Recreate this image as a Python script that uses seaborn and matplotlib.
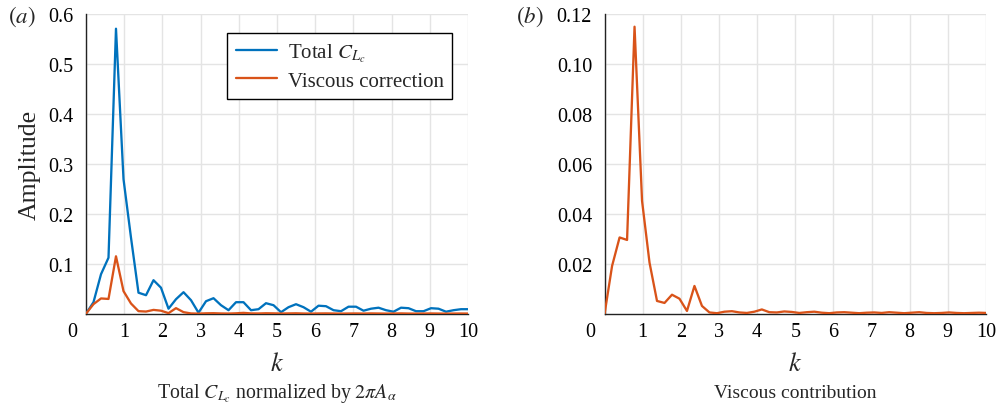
import numpy as np
import pandas as pd
import matplotlib
matplotlib.use("Agg")
import matplotlib.pyplot as plt
import seaborn as sns
from matplotlib.transforms import ScaledTranslation

# ---------------- data ----------------
k = [0.000, 0.196, 0.393, 0.589, 0.785, 0.982, 1.178, 1.374, 1.571, 1.767,
     1.963, 2.160, 2.356, 2.553, 2.749, 2.945, 3.142, 3.338, 3.534, 3.731,
     3.927, 4.123, 4.320, 4.516, 4.712, 4.909, 5.105, 5.301, 5.498, 5.694,
     5.890, 6.087, 6.283, 6.480, 6.676, 6.872, 7.069, 7.265, 7.461, 7.658,
     7.854, 8.050, 8.247, 8.443, 8.639, 8.836, 9.032, 9.228, 9.425, 9.621,
     9.817, 10.014]

total_cl = [0.000, 0.023, 0.079, 0.112, 0.570, 0.269, 0.152, 0.042, 0.037, 0.067,
            0.052, 0.010, 0.029, 0.043, 0.027, 0.002, 0.025, 0.031, 0.017, 0.007,
            0.023, 0.023, 0.007, 0.009, 0.021, 0.017, 0.003, 0.013, 0.019, 0.013,
            0.004, 0.016, 0.015, 0.007, 0.005, 0.014, 0.014, 0.006, 0.010, 0.012,
            0.007, 0.004, 0.012, 0.011, 0.005, 0.005, 0.011, 0.010, 0.004, 0.007,
            0.009, 0.009]

viscous = [0.0000, 0.0191, 0.0305, 0.0295, 0.1148, 0.0451, 0.0204, 0.0051, 0.0043, 0.0076,
           0.0060, 0.0011, 0.0111, 0.0031, 0.0005, 0.0002, 0.0008, 0.0010, 0.0005, 0.0003,
           0.0008, 0.0017, 0.0006, 0.0005, 0.0009, 0.0007, 0.0003, 0.0006, 0.0008, 0.0004,
           0.0002, 0.0005, 0.0006, 0.0004, 0.0002, 0.0004, 0.0005, 0.0003, 0.0006, 0.0004,
           0.0002, 0.0004, 0.0006, 0.0003, 0.0002, 0.0003, 0.0005, 0.0003, 0.0002, 0.0003,
           0.0004, 0.0003]

x_ticks = [0, 1, 2, 3, 4, 5, 6, 7, 8, 9, 10]
x_tick_labels = ["0", "1", "2", "3", "4", "5", "6", "7", "8", "9", "10"]
y_ticks_a = [0.1, 0.2, 0.3, 0.4, 0.5, 0.6]
y_labels_a = ["0.1", "0.2", "0.3", "0.4", "0.5", "0.6"]
y_ticks_b = [0.02, 0.04, 0.06, 0.08, 0.10, 0.12]
y_labels_b = ["0.02", "0.04", "0.06", "0.08", "0.10", "0.12"]

BLUE = "#0072BD"
ORANGE = "#D95319"

# ---------------- style ----------------
sns.set_style("white")
plt.rcParams["font.family"] = ["Liberation Serif", "DejaVu Serif"]
plt.rcParams["mathtext.fontset"] = "stix"

W, H = 999, 410
fig = plt.figure(figsize=(W / 100, H / 100), dpi=100)


def add_ax(x0, x1, y0, y1):
    return fig.add_axes([x0 / W, 1 - y1 / H, (x1 - x0) / W, (y1 - y0) / H])


ax1 = add_ax(86, 468, 14.7, 314.7)
ax2 = add_ax(604.6, 986, 14.7, 314.7)

df = pd.DataFrame({"k": k, "total": total_cl, "viscous": viscous})

sns.lineplot(data=df, x="k", y="total", ax=ax1, color=BLUE, lw=1.65,
             label="Total $C_{L_c}$", zorder=3)
sns.lineplot(data=df, x="k", y="viscous", ax=ax1, color=ORANGE, lw=1.65,
             label="Viscous correction", zorder=4)
sns.lineplot(data=df, x="k", y="viscous", ax=ax2, color=ORANGE, lw=1.65,
             legend=False, zorder=4)


def style(ax, yt, yl, ymax):
    ax.set_xlim(0, 10)
    ax.set_ylim(0, ymax)
    ax.set_xticks(x_ticks, x_tick_labels)
    ax.set_yticks(yt, yl)
    ax.grid(True, color="#e4e4e4", lw=1.0, zorder=0)
    ax.set_axisbelow(True)
    for s in ["top", "right"]:
        ax.spines[s].set_visible(False)
    for s in ["left", "bottom"]:
        ax.spines[s].set_color("#222222")
        ax.spines[s].set_linewidth(1.0)
    ax.tick_params(axis="both", direction="in", length=3.5, width=0.8,
                   color="#222222", labelsize=14.5, labelcolor="black")
    ax.tick_params(axis="y", pad=9)
    ax.tick_params(axis="x", pad=6)
    ax.set_xlabel("$k$", fontsize=19)
    ax.xaxis.set_label_coords(0.5, -0.165)
    ax.xaxis.label.set_va("center")
    ax.set_ylabel("")
    # shift the "0" tick label left, as in the reference
    for lbl in ax.get_xticklabels():
        if lbl.get_text() == "0":
            lbl.set_transform(lbl.get_transform() +
                              ScaledTranslation(-0.14, 0, fig.dpi_scale_trans))


style(ax1, y_ticks_a, y_labels_a, 0.6)
style(ax2, y_ticks_b, y_labels_b, 0.12)

ax1.set_ylabel("Amplitude", fontsize=18.5)
ax1.yaxis.label.set_va("center")
ax1.yaxis.set_label_coords(-0.147, 0.5)

leg = ax1.legend(loc="upper right", bbox_to_anchor=(0.958, 0.936),
                 borderaxespad=0, frameon=True, fancybox=False,
                 edgecolor="black", framealpha=1, fontsize=15,
                 handlelength=2.0, handletextpad=0.5, borderpad=0.4,
                 labelspacing=0.35)
leg.get_frame().set_linewidth(1.0)

ax1.text(0.5, -0.264, "Total $C_{L_c}$ normalized by $2\\pi A_\\alpha$",
         transform=ax1.transAxes, ha="center", va="center", fontsize=14.3)
ax2.text(0.5, -0.264, "Viscous contribution",
         transform=ax2.transAxes, ha="center", va="center", fontsize=14)

fig.text(8 / W, 1 - 17 / H, "$(a)$", ha="left", va="center", fontsize=16.5)
fig.text(516 / W, 1 - 17 / H, "$(b)$", ha="left", va="center", fontsize=16.5)

fig.savefig("out.png", dpi=100)
